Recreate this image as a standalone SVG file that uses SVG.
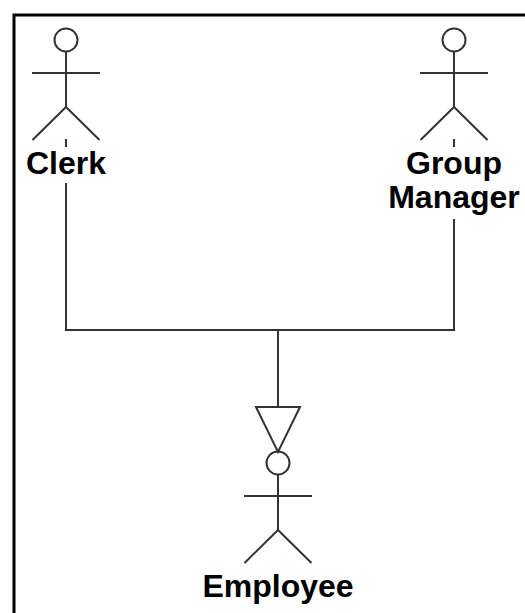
<svg xmlns="http://www.w3.org/2000/svg" width="525" height="613" viewBox="0 0 525 613">
<style>
.l{fill:none;stroke:#333;stroke-width:2}
.t{font-family:"Liberation Sans",Arial,sans-serif;font-size:32px;font-weight:bold;fill:#000;text-anchor:middle}
</style>
<defs>
<g id="actor"><circle cx="0" cy="-33" r="11.5" class="l"/><path class="l" d="M0 -21.500V34M-34 0H34M0 34L-33.500 67M0 34L33.500 67"/></g>
</defs>
<rect width="525" height="613" fill="#fff"/>
<path d="M14 613V15H525" fill="none" stroke="#000" stroke-width="3"/>
<g id="connectors"><path class="l" d="M66 139V147M66 183V330H454V219M454 139V147M278 330V407"/></g>
<g id="clerk"><use href="#actor" x="66" y="73"/><text class="t" x="66" y="174">Clerk</text></g>
<g id="group-manager"><use href="#actor" x="454" y="73"/><text class="t" x="454" y="174">Group</text><text class="t" x="454" y="208">Manager</text></g>
<g id="employee"><path class="l" d="M256 407H300L278 452Z"/><use href="#actor" x="278" y="496"/><text class="t" x="278" y="597">Employee</text></g>
</svg>
